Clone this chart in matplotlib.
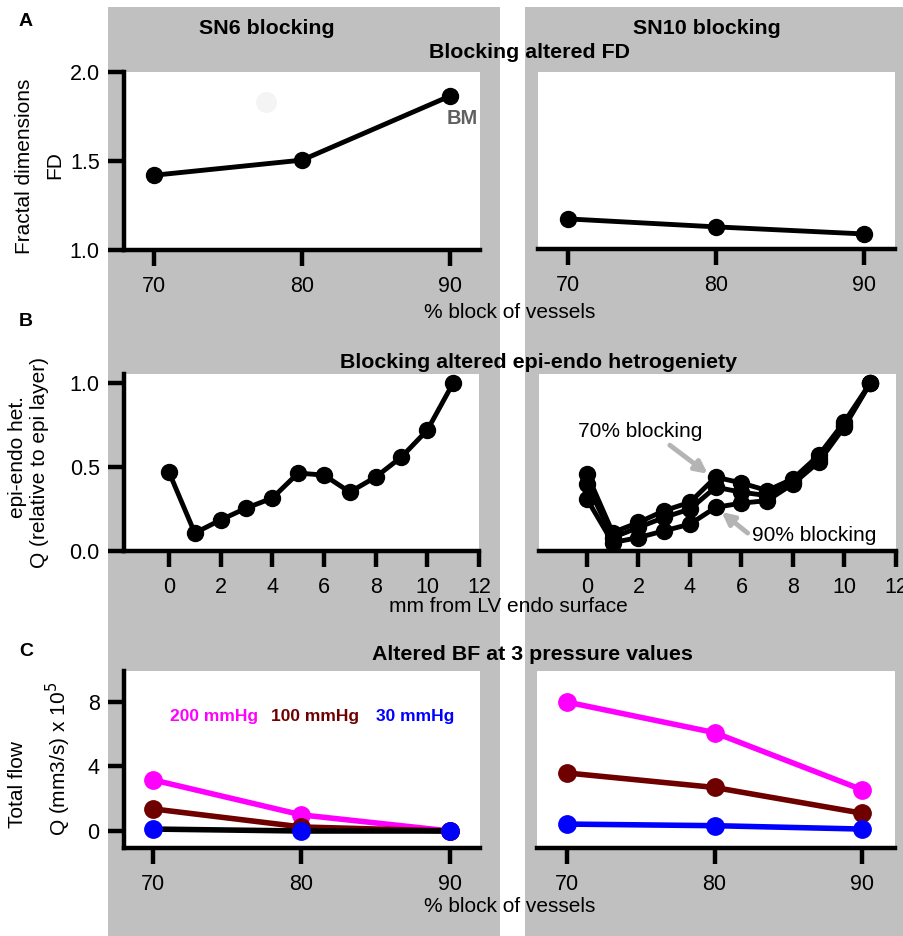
import numpy as np
import matplotlib
matplotlib.use("Agg")
import matplotlib.pyplot as plt
import matplotlib.patches as patches

plt.rcParams['font.family'] = ['Liberation Sans', 'DejaVu Sans']

# ---------------------------------------------------------------------------
# Data
# ---------------------------------------------------------------------------
block_pct = [70, 80, 90]
fd_sn6 = [1.42, 1.505, 1.865]
fd_sn10 = [1.17, 1.125, 1.085]

depth_mm = list(range(12))
het_sn6 = [0.47, 0.107, 0.185, 0.256, 0.315, 0.464, 0.452, 0.351, 0.44, 0.56, 0.72, 1.0]
het_sn10_70 = [0.46, 0.11, 0.17, 0.24, 0.29, 0.44, 0.405, 0.36, 0.43, 0.57, 0.77, 1.0]
het_sn10_80 = [0.40, 0.08, 0.14, 0.20, 0.25, 0.38, 0.35, 0.33, 0.41, 0.55, 0.75, 1.0]
het_sn10_90 = [0.31, 0.05, 0.08, 0.12, 0.16, 0.26, 0.285, 0.30, 0.40, 0.53, 0.74, 1.0]

pressures = ["200 mmHg", "100 mmHg", "30 mmHg"]
flow_sn6 = {"200 mmHg": [3.17, 1.0, 0.0],
            "100 mmHg": [1.37, 0.25, 0.0],
            "30 mmHg": [0.12, 0.0, 0.0]}
flow_sn10 = {"200 mmHg": [8.0, 6.1, 2.55],
             "100 mmHg": [3.6, 2.7, 1.1],
             "30 mmHg": [0.43, 0.33, 0.12]}

# ---------------------------------------------------------------------------
# Styling
# ---------------------------------------------------------------------------
W, H = 904, 936
GRAY_BG = "#c0c0c0"
P_COLORS = {"200 mmHg": "#ff00ff", "100 mmHg": "#6e0000", "30 mmHg": "#0000ff"}
AX_LW = 3.2     # spines and ticks
LW = 3.5        # data lines
MS = 11.5
TICK_FS = 15.5
LAB_FS = 15
TITLE_FS = 15.4

fig = plt.figure(figsize=(W / 100, H / 100), dpi=100, facecolor="white")

# gray column backgrounds (behind the axes)
for x0, x1 in [(108, 500), (525, 904)]:
    fig.patches.append(patches.Rectangle((x0 / W, 0), (x1 - x0) / W, 1 - 7 / H,
                                         transform=fig.transFigure,
                                         facecolor=GRAY_BG, edgecolor="none", zorder=-10))


def px_axes(x0, x1, y0, y1, xlim, ylim, left_axis):
    ax = fig.add_axes([x0 / W, 1 - y1 / H, (x1 - x0) / W, (y1 - y0) / H], facecolor="white")
    ax.set_xlim(xlim)
    ax.set_ylim(ylim)
    for s in ["top", "right"]:
        ax.spines[s].set_visible(False)
    ax.spines["bottom"].set_linewidth(AX_LW)
    ax.spines["left"].set_linewidth(AX_LW)
    ax.tick_params(axis="x", length=11.5, width=AX_LW, pad=7, labelsize=TICK_FS)
    if left_axis:
        ax.tick_params(axis="y", length=11.5, width=AX_LW, pad=6, labelsize=TICK_FS)
    else:
        ax.spines["left"].set_visible(False)
        ax.set_yticks([])
    return ax


def fig_text(x, y, s, **kw):
    fig.text(x / W, 1 - y / H, s, ha="center", va="center", **kw)


# ---------------------------------------------------------------------------
# Row A — fractal dimension
# ---------------------------------------------------------------------------
ax = px_axes(124, 480, 72, 250, (67.97, 92.03), (1.0, 2.0), True)
ax.set_xticks(block_pct)
ax.set_yticks([1.0, 1.5, 2.0])
ax.set_yticklabels(["1.0", "1.5", "2.0"])
ax.plot([77.6], [1.83], "o", color="#f4f4f4", ms=14, zorder=1)
ax.plot(block_pct, fd_sn6, "-o", color="black", lw=LW, ms=MS, clip_on=False, zorder=3)
ax.text(90.8, 1.74, "BM", color="#606060", fontsize=14.5, fontweight="bold",
        ha="center", va="center")

ax = px_axes(538, 895, 72, 249, (67.97, 92.1), (1.0, 2.0), False)
ax.set_xticks(block_pct)
ax.plot(block_pct, fd_sn10, "-o", color="black", lw=LW, ms=MS, clip_on=False, zorder=3)

# ---------------------------------------------------------------------------
# Row B — epi-endo heterogeneity
# ---------------------------------------------------------------------------
ax = px_axes(124, 479, 374, 551, (-1.74, 12.0), (0.0, 1.054), True)
ax.set_xticks(range(0, 13, 2))
ax.set_yticks([0.0, 0.5, 1.0])
ax.set_yticklabels(["0.0", "0.5", "1.0"])
ax.plot(depth_mm, het_sn6, "-o", color="black", lw=LW, ms=MS, clip_on=False, zorder=3)

ax = px_axes(539, 896, 374, 551, (-1.86, 11.98), (0.0, 1.054), False)
ax.set_xticks(range(0, 13, 2))
for series in [het_sn10_70, het_sn10_80, het_sn10_90]:
    ax.plot(depth_mm, series, "-o", color="black", lw=LW, ms=MS, clip_on=False, zorder=3)
ax.text(-0.35, 0.71, "70% blocking", fontsize=LAB_FS, ha="left", va="center")
ax.text(8.84, 0.095, "90% blocking", fontsize=LAB_FS, ha="center", va="center")
arrow = dict(arrowstyle="-|>", color="#b4b4b4", lw=3.5, mutation_scale=18,
             shrinkA=0, shrinkB=0)
ax.annotate("", xy=(4.69, 0.46), xytext=(3.22, 0.63), arrowprops=arrow, zorder=4)
ax.annotate("", xy=(5.23, 0.232), xytext=(6.24, 0.107), arrowprops=arrow, zorder=4)

# ---------------------------------------------------------------------------
# Row C — total flow at three pressures
# ---------------------------------------------------------------------------
ax = px_axes(124, 480, 671, 848, (68.04, 92.03), (-1.054, 9.92), True)
ax.set_xticks(block_pct)
ax.set_yticks([0, 4, 8])
for p in pressures:
    line_col = "black" if p == "30 mmHg" else P_COLORS[p]
    ax.plot(block_pct, flow_sn6[p], "-", color=line_col, lw=4, clip_on=False, zorder=3)
    ax.plot(block_pct, flow_sn6[p], "o", color=P_COLORS[p], ms=12.5, clip_on=False, zorder=4)
for (xc, p) in zip([214, 315, 415], pressures):
    fig_text(xc, 716, p, color=P_COLORS[p], fontsize=12.5, fontweight="bold")

ax = px_axes(537, 895, 671, 848, (68.0, 92.2), (-1.054, 9.92), False)
ax.set_xticks(block_pct)
for p in pressures:
    ax.plot(block_pct, flow_sn10[p], "-o", color=P_COLORS[p], lw=4, ms=12.5,
            clip_on=False, zorder=3)

# ---------------------------------------------------------------------------
# Titles, labels, panel letters
# ---------------------------------------------------------------------------
fig_text(267, 28, "SN6 blocking", fontsize=TITLE_FS, fontweight="bold")
fig_text(707, 28, "SN10 blocking", fontsize=TITLE_FS, fontweight="bold")
fig_text(530, 52, "Blocking altered FD", fontsize=TITLE_FS, fontweight="bold")
fig_text(539, 362, "Blocking altered epi-endo hetrogeniety", fontsize=TITLE_FS, fontweight="bold")
fig_text(532, 655, "Altered BF at 3 pressure values", fontsize=TITLE_FS, fontweight="bold")

fig_text(510, 313, "% block of vessels", fontsize=LAB_FS)
fig_text(508, 607, "mm from LV endo surface", fontsize=LAB_FS)
fig_text(510, 906, "% block of vessels", fontsize=LAB_FS)

fig_text(25, 166, "Fractal dimensions", fontsize=LAB_FS, rotation=90)
fig_text(55, 165, "FD", fontsize=LAB_FS, rotation=90)
fig_text(18, 457, "epi-endo het.", fontsize=LAB_FS, rotation=90)
fig_text(40, 462, "Q (relative to epi layer)", fontsize=LAB_FS, rotation=90)
fig_text(18, 785, "Total flow", fontsize=LAB_FS, rotation=90)
fig_text(58, 759, r"Q (mm3/s) x 10$^5$", fontsize=LAB_FS, rotation=90)

for letter, y in [("A", 22), ("B", 322), ("C", 651)]:
    fig_text(26, y, letter, fontsize=14, fontweight="bold")

fig.savefig("out.png", dpi=100, facecolor="white")
